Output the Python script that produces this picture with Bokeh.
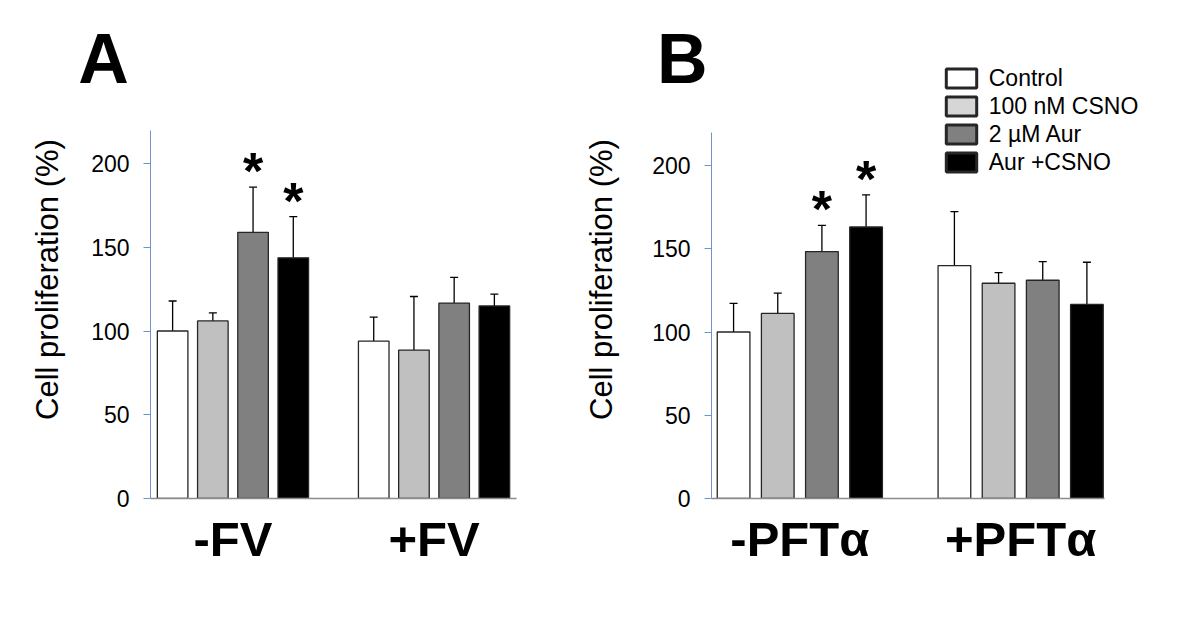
from bokeh.plotting import figure
from bokeh.models import (Range1d, FixedTicker, Whisker, TeeHead, ColumnDataSource,
                          Legend, LegendItem)
from bokeh.layouts import row
from bokeh.core.properties import value
from bokeh.embed import file_html
from bokeh.resources import INLINE

# ---------------- data ----------------
treatments = ["Control", "100 nM CSNO", "2 µM Aur", "Aur +CSNO"]
treatment_colors = ["#ffffff", "#c0c0c0", "#808080", "#000000"]
legend_colors = ["#ffffff", "#d6d6d6", "#808080", "#000000"]

groups_A = ["-FV", "+FV"]
mean_A = [100, 106, 158.9, 143.7, 94, 88.6, 116.7, 115]
sd_A = [17.9, 4.8, 27.0, 24.6, 14.3, 32.0, 15.3, 7.0]
sig_A = [0, 0, 1, 1, 0, 0, 0, 0]

groups_B = ["-PFTα", "+PFTα"]
mean_B = [100, 111.2, 148.3, 163.1, 139.9, 129.3, 131.1, 116.6]
sd_B = [17.2, 12.2, 15.8, 19.3, 32.4, 6.4, 11.2, 25.3]
sig_B = [0, 0, 1, 1, 0, 0, 0, 0]

y_ticks = [0, 50, 100, 150, 200]
y_axis_max = 220
y_label = "Cell proliferation (%)"

FONT = "Liberation Sans"
AXIS_BLUE = "#6f94cc"
H = 624
TOP = 60
BOTTOM = 126


def make_panel(letter, groups, means, sds, sigs, width, border, x_range, x_bounds,
               y_end, bar_w, label_standoff, letter_offset, with_legend=False):
    left, right = border
    p = figure(width=width, height=H, x_range=Range1d(*x_range),
               y_range=Range1d(0, y_end), output_backend="svg", toolbar_location=None,
               min_border_left=left, min_border_right=right,
               min_border_top=TOP, min_border_bottom=BOTTOM)
    p.xgrid.visible = False
    p.ygrid.visible = False
    p.outline_line_color = None
    p.background_fill_color = "white"
    p.border_fill_color = "white"

    # panel letter as the title
    p.title.text = letter
    p.title.text_font = FONT
    p.title.text_font_style = "bold"
    p.title.text_font_size = "70px"
    p.title.text_color = "black"
    p.title.align = "left"
    p.title.offset = letter_offset
    p.title.standoff = -74

    n = len(treatments)
    xs = [g * (n + 1) + t for g in range(len(groups)) for t in range(n)]
    upper = [m + s for m, s in zip(means, sds)]
    src = ColumnDataSource(dict(x=xs, top=means, upper=upper,
                                color=treatment_colors * len(groups)))
    p.vbar(x="x", top="top", width=bar_w, fill_color="color",
           line_color="#262626", line_width=1.3, source=src)

    wk = Whisker(base="x", lower="top", upper="upper", source=src,
                 line_color="black", line_width=1.3,
                 upper_head=TeeHead(size=8, line_color="black", line_width=1.3),
                 lower_head=None)
    p.add_layout(wk)

    sx = [x for x, s in zip(xs, sigs) if s]
    sy = [u for u, s in zip(upper, sigs) if s]
    p.text(x=sx, y=sy, text=["*"] * len(sx), text_align="center",
           text_baseline="alphabetic", y_offset=-16,
           text_font=value(FONT), text_font_style="bold", text_font_size="52px",
           text_color="black")

    # y axis
    ya = p.yaxis[0]
    ya.ticker = FixedTicker(ticks=y_ticks)
    ya.bounds = (0, y_axis_max)
    ya.axis_line_color = AXIS_BLUE
    ya.major_tick_line_color = AXIS_BLUE
    ya.major_tick_out = 7
    ya.major_tick_in = 0
    ya.minor_tick_line_color = None
    ya.major_label_text_font = FONT
    ya.major_label_text_font_size = "23px"
    ya.major_label_text_color = "black"
    ya.major_label_standoff = 14
    ya.axis_label = y_label
    ya.axis_label_text_font = FONT
    ya.axis_label_text_font_size = "31px"
    ya.axis_label_text_font_style = "normal"
    ya.axis_label_text_color = "black"
    ya.axis_label_standoff = label_standoff

    # x axis with group names
    xa = p.xaxis[0]
    centers = [g * (n + 1) + (n - 1) / 2 for g in range(len(groups))]
    xa.ticker = FixedTicker(ticks=centers)
    xa.bounds = x_bounds
    xa.major_label_overrides = {c: g for c, g in zip(centers, groups)}
    xa.major_tick_line_color = None
    xa.major_tick_out = 0
    xa.major_tick_in = 0
    xa.minor_tick_line_color = None
    xa.axis_line_color = "#8c8c8c"
    xa.axis_line_width = 1.5
    xa.major_label_text_font = FONT
    xa.major_label_text_font_size = "49px"
    xa.major_label_text_font_style = "bold"
    xa.major_label_text_color = "black"
    xa.major_label_standoff = 13

    if with_legend:
        items = []
        for t, (name, c) in enumerate(zip(treatments, legend_colors)):
            sub = ColumnDataSource(dict(x=xs[t::n], top=means[t::n]))
            r = p.vbar(x="x", top="top", width=bar_w, fill_color=c,
                       line_color="#262626", line_width=3, source=sub, visible=False)
            items.append(LegendItem(label=name, renderers=[r]))
        lg = Legend(items=items, location=(230.75, 322.5), orientation="vertical",
                    glyph_width=38, glyph_height=24, label_standoff=9, spacing=1,
                    label_height=21, padding=0, margin=0,
                    border_line_color=None, background_fill_alpha=0,
                    inactive_fill_alpha=0,
                    label_text_font=FONT, label_text_font_size="23px",
                    label_text_color="black")
        p.add_layout(lg)
    return p


pA = make_panel("A", groups_A, mean_A, sd_A, sig_A, width=570,
                border=(150, 54), x_range=(-0.55, 8.55), x_bounds=(-0.55, 8.55),
                y_end=261.5, bar_w=0.76, label_standoff=23, letter_offset=-72.3)
pB = make_panel("B", groups_B, mean_B, sd_B, sig_B, width=626,
                border=(141, 46), x_range=(-0.5, 9.44), x_bounds=(-0.5, 8.4),
                y_end=263.1, bar_w=0.74, label_standoff=30, letter_offset=-54.4,
                with_legend=True)

layout = row(pA, pB)
open("out.html", "w").write(file_html(layout, INLINE))
